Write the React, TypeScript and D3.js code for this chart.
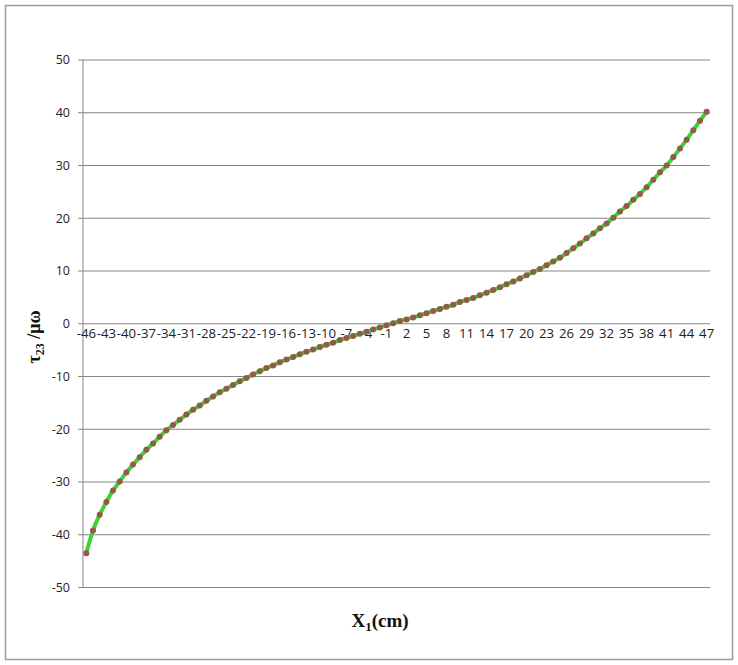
import React from "react";
import * as d3 from "d3";

const categories: number[] = d3.range(-46, 48);
const tauValues: number[] = [
  -43.5, -39.2, -36.2, -33.8, -31.6, -29.9, -28.2, -26.7, -25.3, -23.9,
  -22.7, -21.4, -20.2, -19.2, -18.2, -17.2, -16.3, -15.5, -14.6, -13.8,
  -13.0, -12.3, -11.6, -10.9, -10.3, -9.6, -9.0, -8.4, -7.9, -7.3,
  -6.8, -6.3, -5.8, -5.3, -4.9, -4.4, -4.0, -3.6, -3.1, -2.7,
  -2.3, -1.9, -1.5, -1.1, -0.7, -0.3, 0.1, 0.5, 0.8, 1.2,
  1.6, 2.0, 2.4, 2.8, 3.2, 3.6, 4.1, 4.5, 4.9, 5.4,
  5.9, 6.4, 6.9, 7.5, 8.0, 8.6, 9.2, 9.8, 10.4, 11.1,
  11.8, 12.5, 13.4, 14.3, 15.2, 16.2, 17.1, 18.1, 19.0, 20.1,
  21.3, 22.3, 23.5, 24.6, 25.9, 27.3, 28.7, 30.0, 31.6, 33.2,
  34.9, 36.7, 38.5, 40.2,
];
const yTicks: number[] = d3.range(-50, 51, 10);
const xTickLabels: number[] = categories.filter((_, i) => i % 3 === 0);

export default function App() {
  const W = 738;
  const H = 665;
  const left = 83;
  const right = 710;
  const top = 60;
  const bottom = 587.5;

  const x = d3
    .scalePoint<number>()
    .domain(categories)
    .range([left, right])
    .padding(0.5);
  const y = d3.scaleLinear().domain([-50, 50]).range([bottom, top]);

  const data = categories.map((c, i) => ({ c, v: tauValues[i] }));
  const line = d3
    .line<{ c: number; v: number }>()
    .x((d) => x(d.c) as number)
    .y((d) => y(d.v))
    .curve(d3.curveCatmullRom.alpha(0.5));

  const tickFont = "'Open Sans', 'Noto Sans', sans-serif";
  const titleFont = "'Liberation Serif', 'DejaVu Serif', serif";
  const gridColor = "#858585";

  return (
    <svg
      width={W}
      height={H}
      style={{ position: "absolute", left: 0, top: 0, background: "#fff" }}
    >
      <rect
        x={5.5}
        y={5.5}
        width={727}
        height={654}
        fill="#fff"
        stroke="#9a9a9a"
        strokeWidth={1.5}
      />
      {yTicks.map((t) => (
        <g key={t}>
          <line
            x1={left - 5}
            x2={right}
            y1={y(t)}
            y2={y(t)}
            stroke={gridColor}
            strokeWidth={1}
          />
          <text
            x={70}
            y={y(t)}
            dy="0.35em"
            textAnchor="end"
            fontFamily={tickFont}
            fontSize={12.5}
            fill="#222"
          >
            {t}
          </text>
        </g>
      ))}
      <line
        x1={left}
        x2={left}
        y1={top}
        y2={bottom}
        stroke={gridColor}
        strokeWidth={1}
      />
      {xTickLabels.map((c) => (
        <text
          key={c}
          x={x(c) as number}
          y={337.5}
          textAnchor="middle"
          fontFamily={tickFont}
          fontSize={13.2}
          fill="#222"
        >
          {c}
        </text>
      ))}
      <path
        d={line(data) || ""}
        fill="none"
        stroke="#3fd234"
        strokeWidth={4}
        strokeLinejoin="round"
      />
      {data.map((d) => (
        <circle
          key={d.c}
          cx={x(d.c) as number}
          cy={y(d.v)}
          r={3}
          fill="#935a47"
        />
      ))}
      <text
        x={380}
        y={627}
        textAnchor="middle"
        fontFamily={titleFont}
        fontWeight="bold"
        fontSize={19}
        fill="#111"
      >
        X<tspan fontSize={13} dy={4}>1</tspan>
        <tspan dy={-4}>(cm)</tspan>
      </text>
      <text
        transform={`translate(40, 337) rotate(-90)`}
        textAnchor="middle"
        fontFamily={titleFont}
        fontWeight="bold"
        fontSize={18}
        fill="#111"
      >
        τ<tspan fontSize={12} dy={4}>23</tspan>
        <tspan dy={-4}> /μω</tspan>
      </text>
    </svg>
  );
}
